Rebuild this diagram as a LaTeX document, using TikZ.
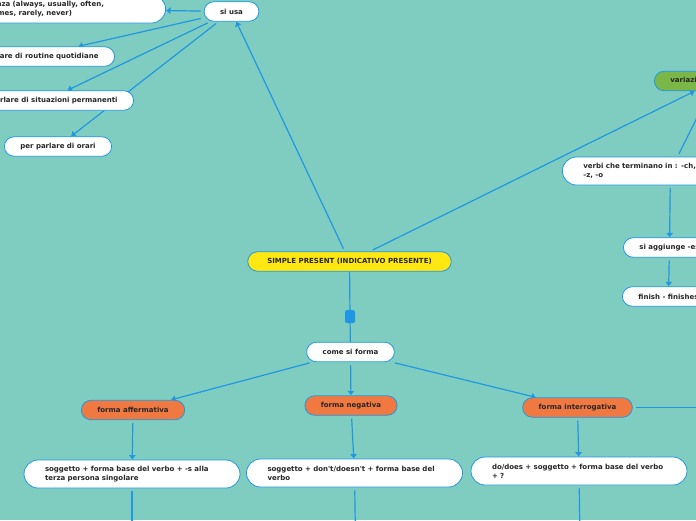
\documentclass[tikz,border=0pt]{standalone}
\usepackage{fontspec}
\setmainfont{DejaVu Sans}
\usetikzlibrary{positioning,backgrounds,arrows.meta}
\definecolor{fond}{RGB}{126,205,192}
\definecolor{bleu}{RGB}{33,150,227}
\definecolor{jaune}{RGB}{255,232,18}
\definecolor{arancio}{RGB}{240,121,66}
\definecolor{verde}{RGB}{122,182,72}
\tikzstyle{bulle}=[
  draw=bleu,
  line width=.8pt,
  fill=white,
  rounded corners=9.75pt,
  minimum height=19.5pt,
  inner xsep=16pt,
  inner ysep=0pt,
  text=black!85,
  font=\fontsize{7}{9}\selectfont\bfseries
]
\tikzstyle{bulledeux}=[%
  bulle,
  rounded corners=14pt,
  minimum height=28pt,
  inner xsep=21pt,
  text width=174pt,
  align=left
]
\tikzstyle{forme}=[bulle,fill=arancio]
\tikzstyle{lien}=[>={Latex[length=4.5pt,width=7.5pt]},->,draw=bleu,line width=1.2pt,shorten <=3pt]
\tikzstyle{trait}=[draw=bleu,line width=1.2pt,shorten <=3pt]
\begin{document}
\begin{tikzpicture}[x=1pt,y=-1pt]
    \useasboundingbox (0,0) rectangle (696,520);
    \clip (0,0) rectangle (696,520);
    % usi
    \node[bulle] (siusa) at (231.5,11.5) {si usa};
    \node[bulledeux,anchor=east] (frequenza) at (166,9) {frequenza (always, usually, often,\\sometimes, rarely, never)};
    \node[bulle,anchor=east] (routine) at (115,56.5) {per parlare di routine quotidiane};
    \node[bulle,anchor=east] (permanenti) at (134,100.5) {per parlare di situazioni permanenti};
    \node[bulle] (orari) at (58,146.5) {per parlare di orari};
    % variazioni
    \node[bulle,fill=verde,anchor=west] (variazioni) at (654,81) {variazioni ortografiche};
    \node[bulledeux,anchor=west] (verbi) at (562,171) {verbi che terminano in : -ch,\\-z, -o};
    \node[bulle,anchor=west] (aggiunge) at (623,247.5) {si aggiunge -es};
    \node[bulle,anchor=west] (finish) at (622,296.5) {finish - finishes};
    % centro
    \node[bulle,fill=jaune,inner xsep=19.5pt] (simple) at (349.5,261.5) {SIMPLE PRESENT (INDICATIVO PRESENTE)};
    \node[fill=bleu,rounded corners=1.5pt,minimum width=10pt,minimum height=13pt,inner sep=0pt] (bouton) at (350,316.5) {};
    \node[bulle] (forma) at (350.5,352) {come si forma};
    % forme
    \node[forme] (affermativa) at (133,410) {forma affermativa};
    \node[forme] (negativa) at (351,405.5) {forma negativa};
    \node[forme] (interrogativa) at (577.5,407.5) {forma interrogativa};
    \node[bulledeux] (regolaaff) at (132,474) {soggetto + forma base del verbo + -s alla\\terza persona singolare};
    \node[bulledeux] (regolaneg) at (354.5,473) {soggetto + don\textquotesingle t/doesn\textquotesingle t + forma base del\\verbo};
    \node[bulledeux] (regolaint) at (579,471) {do/does + soggetto + forma base del verbo\\+ ?};
    \coordinate (basaff) at (132,540);
    \coordinate (basneg) at (355.5,540);
    \coordinate (basint) at (580,540);
    \coordinate (destra) at (740,407.5);
    \begin{pgfonlayer}{background}
      \fill[fond] (0,0) rectangle (696,520);
      \draw[lien] (simple) -- (siusa);
      \draw[lien] (simple) -- (variazioni);
      \draw[lien] (siusa) -- (frequenza);
      \draw[lien] (siusa) -- (routine);
      \draw[lien] (siusa) -- (permanenti);
      \draw[lien] (siusa) -- (orari);
      \draw[lien] (verbi) -- (variazioni);
      \draw[lien] (verbi) -- (aggiunge);
      \draw[lien] (aggiunge) -- (finish);
      \draw[trait,shorten <=0pt] (simple) -- (bouton) -- (forma);
      \draw[lien] (forma) -- (affermativa);
      \draw[lien] (forma) -- (negativa);
      \draw[lien] (forma) -- (interrogativa);
      \draw[lien] (affermativa) -- (regolaaff);
      \draw[lien] (negativa) -- (regolaneg);
      \draw[lien] (interrogativa) -- (regolaint);
      \draw[trait] (interrogativa) -- (destra);
      \draw[trait] (regolaaff) -- (basaff);
      \draw[trait] (regolaneg) -- (basneg);
      \draw[trait] (regolaint) -- (basint);
    \end{pgfonlayer}
  \end{tikzpicture}
\end{document}
